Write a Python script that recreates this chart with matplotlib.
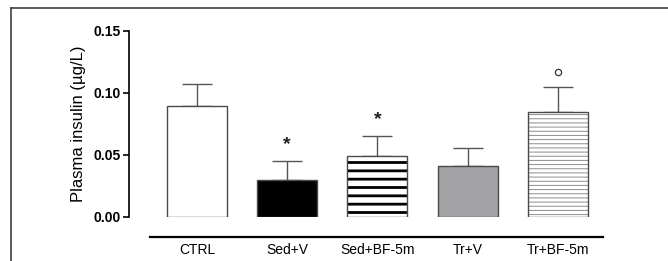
import matplotlib
matplotlib.use("Agg")
import matplotlib.pyplot as plt
from matplotlib.lines import Line2D
from matplotlib.transforms import ScaledTranslation

groups = ["CTRL", "Sed+V", "Sed+BF-5m", "Tr+V", "Tr+BF-5m"]
means = [0.0895, 0.030, 0.049, 0.041, 0.0845]
sem = [0.018, 0.015, 0.016, 0.015, 0.020]
marks = ["", "*", "*", "", "o"]

plt.rcParams['font.family'] = ['Liberation Sans', 'DejaVu Sans']

fig = plt.figure(figsize=(6.68, 2.61), dpi=100)
ax = fig.add_axes([129/668, 44/261, 491/668, 186/261])

# frame around the figure (left and top only visible)
fig.add_artist(Line2D([11/668, 11/668], [0, 1 - 8/261], transform=fig.transFigure,
                      color="#404040", lw=1.2))
fig.add_artist(Line2D([11/668, 1], [1 - 8/261, 1 - 8/261], transform=fig.transFigure,
                      color="#404040", lw=1.2))

x = list(range(len(groups)))
w = 0.665
edge = "#4a4a4a"

fills = ["white", "black", "white", "#a3a3a6", "white"]
hatches = [None, None, "--", None, "----"]
hcolors = [None, None, "black", None, "#8c8c8c"]
hwidths = [None, None, 2.0, None, 0.7]

for i in x:
    if hatches[i]:
        b = ax.bar(i, means[i], w, color=fills[i], edgecolor=hcolors[i],
                   hatch=hatches[i], linewidth=0, zorder=2)
        for p in b:
            if hasattr(p, "set_hatch_linewidth"):
                p.set_hatch_linewidth(hwidths[i])
        ax.bar(i, means[i], w, fill=False, edgecolor=edge, linewidth=1.0, zorder=3)
    else:
        ax.bar(i, means[i], w, color=fills[i], edgecolor=edge, linewidth=1.0, zorder=3)

ax.errorbar(x, means, yerr=[[0]*len(x), sem], fmt="none", ecolor="#555555",
            elinewidth=1.0, capsize=10.8, capthick=1.0, zorder=1)

for i in x:
    if marks[i] == "*":
        ax.annotate("*", (i, means[i] + sem[i]), xytext=(0, 6), textcoords="offset points",
                    ha="center", va="bottom", fontsize=14, fontweight="bold",
                    color="#222222")
    elif marks[i] == "o":
        ln, = ax.plot([i], [means[i] + sem[i]], marker="o", ms=4.5, mfc="white",
                      mec="#333333", mew=0.9, linestyle="none")
        ln.set_transform(ax.transData + ScaledTranslation(0, 15/100, fig.dpi_scale_trans))

ax.set_xlim(-0.753, 4.687)
ax.set_ylim(0, 0.15)
ax.set_yticks([0.00, 0.05, 0.10, 0.15])
ax.set_yticklabels(["0.00", "0.05", "0.10", "0.15"], fontweight="bold", fontsize=10)
ax.set_xticks(x)
ax.set_xticklabels(groups, fontsize=11, color="#222222")
ax.tick_params(axis="x", length=0, pad=4)
ax.tick_params(axis="y", length=4, width=1.2, pad=2)
ax.set_ylabel("Plasma insulin (µg/L)", fontsize=12, labelpad=5)

for s in ["top", "right"]:
    ax.spines[s].set_visible(False)
ax.spines["left"].set_linewidth(1.2)
ax.spines["bottom"].set_position(("outward", 14.4))
ax.spines["bottom"].set_linewidth(1.6)
ax.spines["bottom"].set_bounds(-0.52, 4.5)

fig.savefig("out.png", dpi=100)
